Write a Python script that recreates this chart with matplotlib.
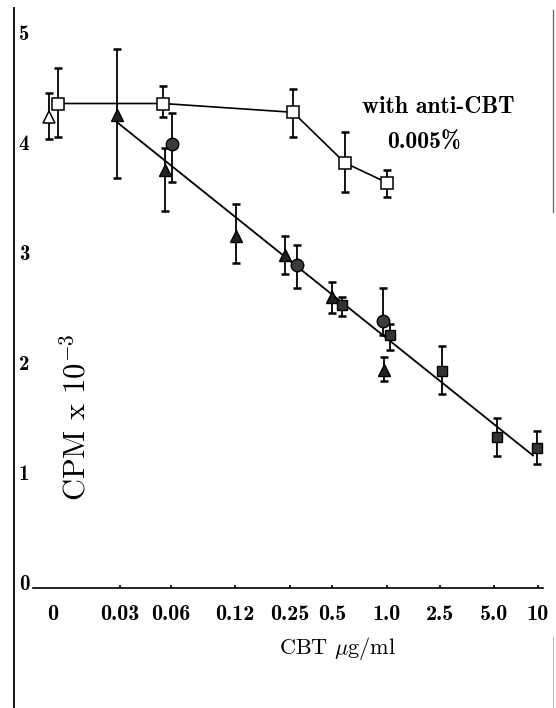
"""
CBT dose-response: CPM x 10^-3 vs CBT concentration, with and without anti-CBT.
"""
import matplotlib
matplotlib.use("Agg")
import matplotlib.pyplot as plt

plt.rcParams['mathtext.fontset'] = 'cm'

# tick positions along the dose axis (page units, left to right) and their labels
dose_pos = [0.53, 1.20, 1.71, 2.35, 2.90, 3.32, 3.87, 4.40, 4.94, 5.38]
dose_labels = ['0', '0.03', '0.06', '0.12', '0.25', '0.5', '1.0', '2.5', '5.0', '10']

# with anti-CBT 0.005% (open squares)
anti_x = [0.58, 1.63, 2.93, 3.45, 3.87]
anti_y = [4.35, 4.35, 4.27, 3.81, 3.63]
anti_hi = [4.67, 4.51, 4.48, 4.09, 3.75]
anti_lo = [4.05, 4.23, 4.05, 3.55, 3.50]

# triangles (first one open, dose 0)
tri_x = [0.49, 1.17, 1.65, 2.36, 2.85, 3.32, 3.84]
tri_y = [4.23, 4.25, 3.75, 3.15, 2.97, 2.59, 1.93]
tri_hi = [4.45, 4.85, 3.95, 3.44, 3.15, 2.73, 2.05]
tri_lo = [4.03, 3.67, 3.37, 2.90, 2.80, 2.45, 1.83]

# circles
circ_x = [1.72, 2.97, 3.83]
circ_y = [3.98, 2.88, 2.37]
circ_hi = [4.26, 3.06, 2.67]
circ_lo = [3.64, 2.67, 2.25]

# filled squares
sq_x = [3.42, 3.90, 4.42, 4.97, 5.37]
sq_y = [2.52, 2.25, 1.92, 1.32, 1.22]
sq_hi = [2.59, 2.35, 2.15, 1.49, 1.37]
sq_lo = [2.42, 2.11, 1.71, 1.15, 1.07]

# fitted line, drawn from 0.03 to 10
fit_x = [1.17, 5.33]
fit_y = [4.18, 1.15]


def errs(y, lo, hi):
    return [[a - b for a, b in zip(y, lo)], [b - a for a, b in zip(y, hi)]]


fig = plt.figure(figsize=(5.56, 7.08), dpi=100)
ax = fig.add_axes([0, 0, 1, 1])
ax.set_xlim(0, 5.56)
ax.set_ylim((582 - 708) / 110, 582 / 110)

eb = dict(fmt='none', ecolor='black', elinewidth=1.3, capsize=2.6, capthick=1.8, zorder=2)

ax.plot(fit_x, fit_y, color='black', lw=1.3, zorder=1)
ax.plot(anti_x, anti_y, color='black', lw=1.2, zorder=1)

ax.errorbar(tri_x, tri_y, yerr=errs(tri_y, tri_lo, tri_hi), **eb)
ax.errorbar(circ_x, circ_y, yerr=errs(circ_y, circ_lo, circ_hi), **eb)
ax.errorbar(sq_x, sq_y, yerr=errs(sq_y, sq_lo, sq_hi), **eb)
ax.errorbar(anti_x, anti_y, yerr=errs(anti_y, anti_lo, anti_hi), **eb)

ax.plot(tri_x[:1], tri_y[:1], '^', ms=8, mfc='white', mec='black', mew=1.1, zorder=3)
ax.plot(tri_x[1:], tri_y[1:], '^', ms=8, mfc='#222222', mec='black', mew=1.0, zorder=3)
ax.plot(circ_x, circ_y, 'o', ms=9, mfc='#3c3c3c', mec='black', mew=1.0, zorder=3)
ax.plot(sq_x, sq_y, 's', ms=7.5, mfc='#333333', mec='black', mew=1.0, zorder=3)
ax.plot(anti_x, anti_y, 's', ms=8, mfc='white', mec='black', mew=1.1, zorder=4)

ax.text(4.38, 4.32, 'with anti-CBT', family='cmb10', fontsize=17, ha='center', va='center')
ax.text(4.24, 3.99, '0.005%', family='cmb10', fontsize=17, ha='center', va='center')

# axes lines
for side in ['top', 'right']:
    ax.spines[side].set_visible(False)
ax.spines['left'].set_position(('data', 0.14))
ax.spines['left'].set_bounds((582 - 708) / 110, (582 - 8) / 110)
ax.spines['left'].set_linewidth(1.3)
ax.spines['bottom'].set_position(('data', -0.055))
ax.spines['bottom'].set_bounds(0.33, 5.43)
ax.spines['bottom'].set_linewidth(1.2)

# faint page edge on the right
ax.axvline(5.53, ymin=0.70, ymax=0.986, color='#666666', lw=0.9)
ax.axvline(5.53, ymin=0.0, ymax=0.10, color='#bbbbbb', lw=0.8)

ax.set_yticks(range(6))
ax.set_yticklabels([str(v) for v in range(6)], family='cmb10', fontsize=15)
ax.tick_params(axis='y', length=0, pad=-3.5)
for lab in ax.get_yticklabels():
    lab.set_ha('left')

ax.set_xticks(dose_pos)
ax.set_xticklabels(dose_labels, family='cmb10', fontsize=16)
ax.tick_params(axis='x', direction='in', length=2.5, width=1.2, pad=12)
ax.xaxis.get_major_ticks()[0].tick1line.set_visible(False)

ax.text(3.38, -0.60, r'CBT $\mu$g/ml', family='cmr10', fontsize=16, ha='center', va='center')
ax.text(0.76, 1.50, r'CPM x 10$^{-3}$', family='cmr10', fontsize=22,
        rotation=90, ha='center', va='center')

fig.savefig('out.png', dpi=100)
